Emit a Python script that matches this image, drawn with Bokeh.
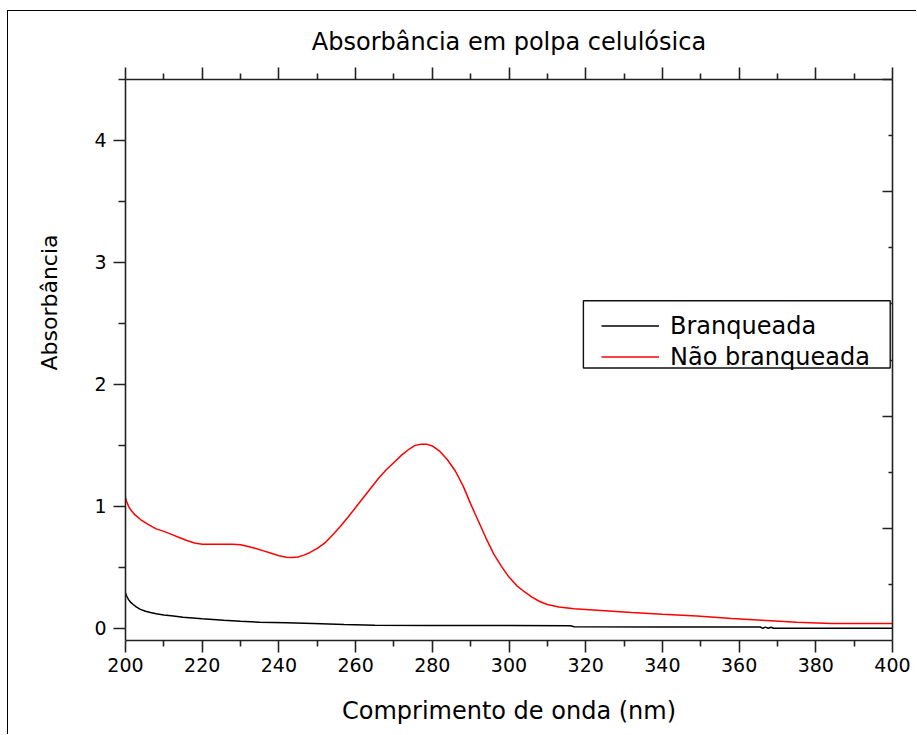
from bokeh.plotting import figure
from bokeh.models import (LinearAxis, Range1d, FixedTicker, CustomJSTickFormatter,
                          Legend, LegendItem, BoxAnnotation, Title)
from bokeh.embed import file_html
from bokeh.resources import INLINE

FONT = "DejaVu Sans"

# ---- data ----
wl_branq = [200, 200.3, 200.8, 201.3, 202, 202.8, 203.9, 205.2, 206.5, 208, 210, 212.5, 215,
            220, 225.6, 230, 235, 242, 249, 257, 265, 280, 300, 316, 317, 340, 365.5,
            366.2, 366.9, 367.6, 368.3, 369, 380, 400]
abs_branq = [0.29, 0.265, 0.235, 0.215, 0.195, 0.175, 0.155, 0.14, 0.13, 0.12, 0.11, 0.1, 0.09,
             0.078, 0.066, 0.058, 0.05, 0.045, 0.04, 0.032, 0.025, 0.023, 0.022, 0.021, 0.012,
             0.011, 0.011, 0.0, 0.01, 0.0, 0.008, 0.0, 0.0, 0.0]

wl_nao = [200, 200.3, 200.8, 201.5, 202.5, 204, 206, 208, 210, 212, 214, 216, 218, 220, 224,
          228, 230, 232, 234, 236, 238, 240, 242, 243.5, 245, 246.5, 248, 250, 252, 254, 256,
          258, 260, 262, 264, 266, 268, 270, 272, 274, 275.5, 277, 278.5, 280, 282, 284, 286,
          288, 290, 292, 294, 296, 298, 300, 302, 304, 306, 308, 310, 313, 317, 323, 332, 340,
          349, 358, 366, 375, 384, 400]
abs_nao = [1.07, 1.04, 1.0, 0.965, 0.93, 0.89, 0.85, 0.815, 0.795, 0.77, 0.745, 0.72, 0.70,
           0.69, 0.69, 0.69, 0.685, 0.67, 0.655, 0.635, 0.615, 0.595, 0.583, 0.58, 0.585, 0.60,
           0.62, 0.655, 0.70, 0.765, 0.835, 0.91, 0.99, 1.07, 1.15, 1.23, 1.30, 1.36, 1.42,
           1.47, 1.50, 1.51, 1.51, 1.495, 1.45, 1.38, 1.29, 1.17, 1.02, 0.88, 0.74, 0.61, 0.51,
           0.42, 0.35, 0.30, 0.255, 0.22, 0.195, 0.175, 0.16, 0.148, 0.13, 0.115, 0.10, 0.08,
           0.066, 0.05, 0.04, 0.04]

series_names = ["Branqueada", "Não branqueada"]
series_colors = ["#000000", "#ff0000"]

x_major = list(range(200, 401, 20))
x_minor = list(range(210, 400, 20))
y_major = [0, 1, 2, 3, 4]
y_minor = [0.5, 1.5, 2.5, 3.5, 4.5]
r_major = [2, 4, 6, 8, 10]
r_minor = [1, 3, 5, 7, 9]

title_text = "Absorbância em polpa celulósica"
x_label = "Comprimento de onda (nm)"
y_label = "Absorbância"

AX = "#222222"

p = figure(width=909, height=724, output_backend="svg", toolbar_location=None,
           x_range=Range1d(200, 400), y_range=Range1d(-0.1, 4.5),
           x_axis_type=None, y_axis_type=None,
           min_border_left=117, min_border_right=25, min_border_top=68, min_border_bottom=95)
p.styles = {"margin-left": "7px", "margin-top": "10px",
            "border-left": "1px solid #000", "border-top": "1px solid #000"}
p.extra_y_ranges = {"r": Range1d(0, 10)}
p.xgrid.visible = False
p.ygrid.visible = False
p.outline_line_color = None
p.background_fill_color = "white"
p.border_fill_color = "white"

p.title.text = title_text
p.title.align = "center"
p.title.vertical_align = "top"
p.title.text_font = FONT
p.title.text_font_size = "24px"
p.title.text_font_style = "normal"
p.title.text_color = "#000000"
p.title.standoff = 20

empty = CustomJSTickFormatter(code="return ''")


def style(ax, tick_out, minor_out, tick_in=0, minor_in=0):
    ax.axis_line_color = AX
    ax.axis_line_width = 1.6
    ax.major_tick_line_color = AX
    ax.major_tick_line_width = 1.6
    ax.minor_tick_line_color = AX
    ax.minor_tick_line_width = 1.6
    ax.major_tick_out = tick_out
    ax.major_tick_in = tick_in
    ax.minor_tick_out = minor_out
    ax.minor_tick_in = minor_in
    ax.major_label_text_font = FONT
    ax.major_label_text_font_size = "19px"
    ax.major_label_text_color = "#000000"


xb = LinearAxis(ticker=FixedTicker(ticks=x_major, minor_ticks=x_minor))
style(xb, 12, 6)
xb.major_label_standoff = 5
xb.axis_label = x_label
xb.axis_label_text_font = FONT
xb.axis_label_text_font_size = "24px"
xb.axis_label_text_font_style = "normal"
xb.axis_label_text_color = "#000000"
xb.axis_label_standoff = 22
p.add_layout(xb, "below")

xt = LinearAxis(ticker=FixedTicker(ticks=x_major, minor_ticks=x_minor), formatter=empty)
style(xt, 12, 6)
xt.major_label_standoff = 0
p.add_layout(xt, "above")

yl = LinearAxis(ticker=FixedTicker(ticks=y_major, minor_ticks=y_minor))
style(yl, 12, 7)
yl.major_label_standoff = 7
p.add_layout(yl, "left")

# y label as a left-side title, starting higher up like the reference
ytitle = Title(text=y_label, align="left", vertical_align="top", offset=270, standoff=56,
               text_font=FONT, text_font_size="22px", text_font_style="normal",
               text_color="#000000")
p.add_layout(ytitle, "left")

yr = LinearAxis(y_range_name="r", ticker=FixedTicker(ticks=r_major, minor_ticks=r_minor),
                formatter=empty)
style(yr, 0, 0, tick_in=10, minor_in=4)
yr.major_label_standoff = 0
p.add_layout(yr, "right")

r1 = p.line(wl_branq, abs_branq, line_color=series_colors[0], line_width=1.5)
r2 = p.line(wl_nao, abs_nao, line_color=series_colors[1], line_width=1.5)

# legend frame
box = BoxAnnotation(left=319.4, right=399.4, top=2.686, bottom=2.135,
                    fill_color="white", fill_alpha=1.0,
                    line_color="#111111", line_alpha=1.0, line_width=1.4, level="annotation")
p.add_layout(box)

legend = Legend(items=[LegendItem(label=series_names[0], renderers=[r1]),
                       LegendItem(label=series_names[1], renderers=[r2])],
                location=(476, 268), orientation="vertical",
                glyph_width=58, glyph_height=31, label_height=31, spacing=0,
                label_standoff=11, padding=4, margin=0,
                border_line_color=None, background_fill_alpha=0,
                label_text_font=FONT, label_text_font_size="24px",
                label_text_color="#000000", label_text_baseline="middle")
p.add_layout(legend, "center")

open("out.html", "w").write(file_html(p, INLINE))
